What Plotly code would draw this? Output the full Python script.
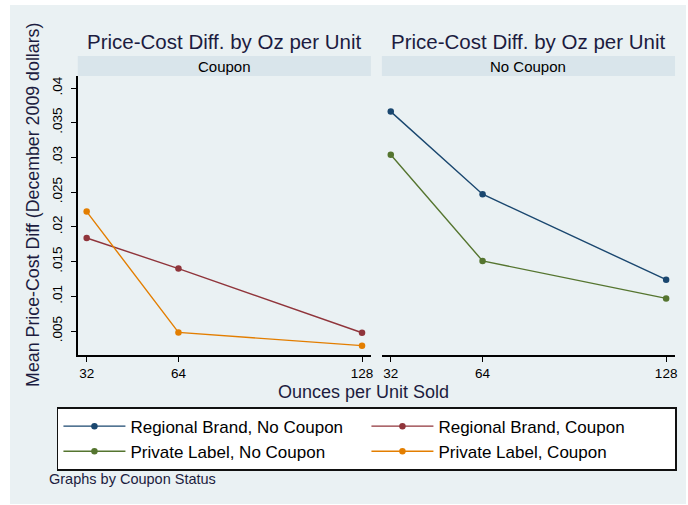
import plotly.graph_objects as go

# Ounces per unit sold (x categories shared by both panels)
ounces = [32, 64, 128]

# Mean price-cost difference (December 2009 dollars)
regional_no_coupon = [0.0366, 0.0247, 0.0124]
regional_coupon = [0.0184, 0.0140, 0.00475]
private_no_coupon = [0.0304, 0.0151, 0.0097]
private_coupon = [0.0222, 0.0048, 0.0029]

y_ticks = [0.005, 0.01, 0.015, 0.02, 0.025, 0.03, 0.035, 0.04]
y_tick_text = [".005", ".01", ".015", ".02", ".025", ".03", ".035", ".04"]
x_ticks = [32, 64, 128]

W, H = 688, 505


def fx(px):
    return px / W


def fy(px):
    return 1 - px / H


NAVY = "#1A476F"
MAROON = "#90353B"
GREEN = "#55752F"
ORANGE = "#E37E00"
BG = "#EAF1F3"
STRIP = "#D9E5EB"
GRID = "#EAF1F3"
HEAD = "#1c1c40"
FONT = "Liberation Sans, Arial, sans-serif"

fig = go.Figure()

series = [
    ("Regional Brand, No Coupon", regional_no_coupon, NAVY, "x2", "y2"),
    ("Regional Brand, Coupon", regional_coupon, MAROON, "x", "y"),
    ("Private Label, No Coupon", private_no_coupon, GREEN, "x2", "y2"),
    ("Private Label, Coupon", private_coupon, ORANGE, "x", "y"),
]
for name, vals, col, xa, ya in series:
    fig.add_trace(go.Scatter(
        x=ounces, y=vals, name=name, mode="lines+markers",
        line=dict(color=col, width=1.4),
        marker=dict(color=col, symbol="circle", size=6.5),
        xaxis=xa, yaxis=ya,
    ))

x_range = [28.9, 131.1]
y_range = [0.00155, 0.04173]
left_dom = [fx(78), fx(372)]
right_dom = [fx(383), fx(677)]
y_dom = [fy(355), fy(76)]

common_x = dict(range=x_range, tickvals=x_ticks, ticks="outside", ticklen=5,
                tickwidth=1.2, tickcolor="black", showline=True, linecolor="black",
                linewidth=1.5, showgrid=False, zeroline=False,
                tickfont=dict(family=FONT, size=13.5, color="black"), fixedrange=True)

fig.update_layout(
    width=W, height=H,
    margin=dict(l=0, r=0, t=0, b=0),
    paper_bgcolor="white",
    plot_bgcolor="white",
    font=dict(family=FONT, color="black"),
    xaxis=dict(domain=left_dom, anchor="y", **common_x),
    xaxis2=dict(domain=right_dom, anchor="y2", **common_x),
    yaxis=dict(domain=y_dom, anchor="x", range=y_range, tickvals=y_ticks,
               ticktext=y_tick_text, tickangle=-90, ticks="outside", ticklen=5,
               tickwidth=1.2, tickcolor="black", showline=True, linecolor="black",
               linewidth=1.5, showgrid=True, gridcolor=GRID, gridwidth=1.5,
               zeroline=False, ticklabelstandoff=4,
               tickfont=dict(family=FONT, size=13.5, color="black")),
    yaxis2=dict(domain=y_dom, anchor="x2", matches="y", range=y_range,
                tickvals=y_ticks, showticklabels=False, ticks="", showline=False,
                showgrid=True, gridcolor=GRID, gridwidth=1.5, zeroline=False),
    legend=dict(
        orientation="h", x=fx(57), xanchor="left", y=fy(407), yanchor="top",
        bgcolor="white", bordercolor="#111111", borderwidth=1.6,
        font=dict(family=FONT, size=17, color="black"),
        entrywidth=231, itemwidth=62, traceorder="normal",
    ),
    showlegend=True,
)

shapes = [
    # graph region background
    dict(type="rect", xref="paper", yref="paper", x0=fx(10), x1=fx(688),
         y0=fy(504), y1=fy(5), fillcolor=BG, line=dict(width=0), layer="below"),
]
for dom in (left_dom, right_dom):
    shapes.append(dict(type="rect", xref="paper", yref="paper", x0=dom[0], x1=dom[1],
                       y0=fy(76), y1=fy(56), fillcolor=STRIP, line=dict(width=0),
                       layer="below"))

annotations = []
for dom, strip in ((left_dom, "Coupon"), (right_dom, "No Coupon")):
    cx = (dom[0] + dom[1]) / 2
    annotations.append(dict(text="Price-Cost Diff. by Oz per Unit", x=cx, y=fy(42),
                            xref="paper", yref="paper", showarrow=False,
                            xanchor="center", yanchor="middle",
                            font=dict(family=FONT, size=20.5, color=HEAD)))
    annotations.append(dict(text=strip, x=cx, y=fy(66), xref="paper", yref="paper",
                            showarrow=False, xanchor="center", yanchor="middle",
                            font=dict(family=FONT, size=15, color="black")))

annotations.append(dict(text="Mean Price-Cost Diff (December 2009 dollars)",
                        x=fx(33), y=fy(205), xref="paper", yref="paper",
                        showarrow=False, textangle=-90, xanchor="center",
                        yanchor="middle", font=dict(family=FONT, size=17.8, color=HEAD)))
annotations.append(dict(text="Ounces per Unit Sold", x=fx(365), y=fy(392),
                        xref="paper", yref="paper", showarrow=False,
                        xanchor="center", yanchor="middle",
                        font=dict(family=FONT, size=18, color=HEAD)))
annotations.append(dict(text="Graphs by Coupon Status", x=fx(47), y=fy(479),
                        xref="paper", yref="paper", showarrow=False,
                        xanchor="left", yanchor="middle",
                        font=dict(family=FONT, size=14.5, color=HEAD)))

fig.update_layout(shapes=shapes, annotations=annotations)

fig.write_html("out.html")
